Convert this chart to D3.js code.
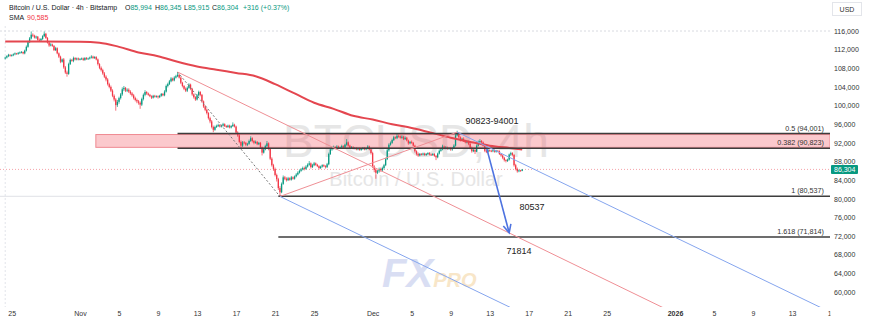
<!DOCTYPE html>
<html lang="en">
<head>
<meta charset="UTF-8">
<title>BTCUSD 4h</title>
<script src="https://d3js.org/d3.v7.min.js"></script>
<style>
  body { margin: 0; background: #fff; }
  svg { display: block; font-family: "Liberation Sans", Arial, sans-serif; }
</style>
</head>
<body>
<div id="chart"></div>
<script>
// 4h candles from Bitstamp, prices in thousand USD, first candle 2025-10-24 08:00 UTC
var startTime = Date.UTC(2025, 9, 24, 8);
var firstOpen = 110.1;
var closes = [
  110.3,110.6,110.9,110.7,
  110.8,111.0,111.2,111.1,111.3,111.4,
  111.5,111.2,111.8,112.6,113.6,114.4,
  115.2,115.0,114.6,114.8,114.1,114.0,
  114.3,114.9,115.4,114.5,113.5,112.9,
  113.1,112.8,111.9,112.3,111.2,110.5,
  109.4,109.9,108.2,107.1,106.8,108.9,
  109.8,109.6,110.2,109.9,110.1,109.9,
  110.0,110.1,109.8,110.2,110.0,110.1,
  110.3,110.5,110.2,110.4,109.9,108.9,
  108.1,107.6,106.9,106.2,105.6,104.6,
  104.0,103.2,102.1,101.3,100.1,100.8,
  101.6,102.4,103.5,103.8,103.2,103.4,
  103.0,102.6,102.2,101.6,101.2,100.9,
  100.6,100.2,101.4,102.3,102.9,102.6,
  102.3,102.0,101.7,102.1,101.9,102.0,
  101.8,102.1,102.5,102.2,103.0,104.2,
  104.6,105.2,105.8,105.4,106.0,106.3,
  106.6,106.0,104.9,104.2,103.6,103.2,
  103.8,104.5,103.6,102.4,101.8,101.3,
  102.2,102.9,102.3,100.9,99.8,99.1,
  98.4,97.3,96.6,95.4,94.8,95.4,
  95.6,95.8,95.5,95.7,96.0,95.6,
  95.4,95.7,95.3,95.6,95.9,95.5,
  94.2,93.6,92.2,91.4,92.1,92.0,
  91.6,91.8,92.4,93.0,92.4,92.0,
  92.2,91.7,92.0,91.0,89.9,90.6,
  91.3,91.9,90.7,88.6,87.2,86.4,
  85.1,84.2,82.3,81.4,83.2,84.6,
  84.3,84.0,84.4,84.1,84.6,84.3,
  84.8,85.2,85.6,86.0,86.3,86.6,
  86.4,86.9,87.3,87.6,86.8,87.2,
  87.6,87.3,87.0,86.6,86.9,87.2,
  87.0,86.8,87.4,89.6,90.6,90.9,
  91.1,90.8,91.2,90.9,91.0,91.3,
  91.0,91.6,92.1,91.4,90.9,91.1,
  90.8,90.9,90.6,90.8,90.5,90.7,
  90.9,90.6,90.8,91.2,90.6,89.8,
  86.9,86.2,85.6,85.9,86.4,86.1,
  86.6,87.2,88.5,90.4,91.6,92.0,
  92.6,93.2,93.0,93.5,93.4,93.1,
  93.3,92.8,93.1,92.5,91.9,92.2,
  92.0,91.4,90.2,89.6,89.3,89.6,
  89.5,89.7,89.4,89.6,89.8,89.5,
  89.4,89.6,89.2,88.9,89.7,90.3,
  90.6,91.2,90.8,91.0,90.7,90.9,
  90.6,90.9,91.4,93.6,94.1,93.2,
  92.6,92.9,92.4,92.1,92.3,91.8,
  90.9,90.2,90.5,90.1,91.4,92.2,
  92.4,92.1,91.4,90.3,90.1,90.4,
  90.3,90.2,90.4,90.1,90.3,90.2,
  89.6,89.3,88.8,88.3,88.1,88.4,
  89.5,89.8,89.4,87.2,86.4,85.9,
  86.1,85.994,86.304
];
var highs = [
  110.5,110.8,111.1,111.0,
  111.0,111.2,111.4,111.3,111.5,111.6,
  111.7,111.6,112.0,112.9,113.9,114.7,
  115.9,115.5,115.2,115.0,114.9,114.4,
  114.5,115.1,115.9,115.6,114.7,113.8,
  113.4,113.3,113.0,112.6,112.5,111.4,
  110.7,110.1,110.2,108.5,107.5,109.2,
  110.1,110.0,110.5,110.4,110.3,110.3,
  110.2,110.3,110.3,110.4,110.4,110.3,
  110.5,110.8,110.7,110.6,110.6,110.1,
  109.1,108.4,107.9,107.2,106.5,105.9,
  104.9,104.3,103.5,102.4,101.6,101.2,
  101.9,102.7,103.9,104.2,104.0,103.7,
  103.7,103.3,102.9,102.5,101.9,101.5,
  101.2,100.9,101.7,102.6,103.3,103.1,
  102.8,102.5,102.2,102.3,102.3,102.2,
  102.2,102.3,102.7,102.7,103.3,104.5,
  104.9,105.5,106.1,106.0,106.3,106.6,
  107.2,106.8,106.2,105.1,104.4,103.9,
  104.1,104.8,104.7,103.8,102.6,102.0,
  102.5,103.2,103.1,102.5,101.1,100.1,
  99.4,98.6,97.6,96.9,95.7,95.7,
  95.9,96.1,96.0,95.9,96.3,96.2,
  95.8,95.9,95.9,95.8,96.4,96.1,
  95.7,94.5,93.9,92.5,92.4,92.4,
  92.2,92.0,92.7,93.4,93.2,92.6,
  92.5,92.4,92.2,92.2,91.2,90.9,
  91.6,92.4,92.1,90.9,88.9,87.5,
  86.7,85.4,84.5,82.7,83.5,85.0,
  84.9,84.6,84.7,84.6,84.9,84.8,
  85.0,85.5,85.9,86.3,86.6,86.9,
  86.9,87.2,87.6,88.1,87.8,87.5,
  87.9,87.8,87.5,87.2,87.1,87.4,
  87.4,87.2,87.7,89.9,90.9,91.2,
  91.4,91.3,91.5,91.4,91.2,91.6,
  91.5,91.8,92.8,92.3,91.6,91.3,
  91.3,91.1,91.1,91.0,91.0,90.9,
  91.1,91.1,91.0,91.5,91.4,90.8,
  90.1,87.2,86.5,86.2,86.7,86.7,
  86.9,87.5,88.8,90.7,91.9,92.3,
  92.9,93.5,93.4,93.9,93.8,93.6,
  93.6,93.5,93.4,93.3,92.7,92.4,
  92.5,92.2,91.6,90.4,89.9,89.8,
  89.8,89.9,89.9,89.8,90.0,90.0,
  89.7,89.8,89.8,89.4,89.9,90.6,
  90.9,91.6,91.4,91.3,91.2,91.1,
  91.1,91.1,91.7,93.9,94.6,94.3,
  93.4,93.1,93.2,92.7,92.6,92.5,
  92.0,91.2,90.8,90.7,91.7,92.5,
  92.8,92.6,92.3,91.6,90.5,90.7,
  90.6,90.5,90.6,90.6,90.5,90.5,
  90.4,89.8,89.5,89.0,88.5,88.6,
  89.7,90.1,90.0,89.6,87.5,86.7,
  86.3,86.2,86.345
];
var lows = [
  109.9,110.1,110.4,110.5,
  110.5,110.6,110.8,110.9,110.9,111.1,
  111.2,111.0,111.0,111.6,112.4,113.4,
  114.2,114.7,114.4,114.3,113.9,113.7,
  113.8,114.1,114.7,114.3,113.3,112.6,
  112.7,112.6,111.7,111.7,111.0,110.2,
  109.1,109.2,107.9,106.8,106.2,106.6,
  108.7,109.4,109.3,109.7,109.7,109.7,
  109.7,109.8,109.6,109.6,109.8,109.8,
  109.9,110.1,110.0,110.0,109.7,108.6,
  107.8,107.3,106.6,105.9,105.2,104.3,
  103.7,102.9,101.8,100.9,98.9,99.7,
  100.4,101.3,102.1,103.1,102.9,102.9,
  102.7,102.3,101.9,101.3,100.9,100.5,
  100.2,99.3,99.9,101.1,102.0,102.3,
  102.1,101.8,101.4,101.5,101.7,101.7,
  101.5,101.6,101.9,102.0,102.0,102.8,
  103.9,104.4,105.0,105.2,105.2,105.8,
  106.1,105.8,104.6,103.9,103.3,102.9,
  102.9,103.6,103.3,102.1,101.5,101.0,
  101.1,101.9,102.0,100.6,99.5,98.8,
  98.1,97.0,96.2,95.1,94.3,94.6,
  95.2,95.4,95.3,95.3,95.5,95.4,
  95.2,95.2,95.1,95.1,95.4,95.3,
  94.0,93.3,91.9,90.9,91.1,91.7,
  91.3,91.3,91.6,92.2,92.1,91.7,
  91.8,91.5,91.5,90.7,89.3,89.7,
  90.4,91.1,90.4,88.3,86.9,86.0,
  84.8,83.7,81.9,80.5,81.2,83.0,
  84.0,83.7,83.8,83.9,83.9,84.1,
  84.1,84.6,85.0,85.4,85.8,86.1,
  86.1,86.2,86.7,87.1,86.5,86.6,
  87.0,87.1,86.8,86.3,86.4,86.7,
  86.8,86.5,86.6,87.2,89.4,90.3,
  90.6,90.6,90.6,90.7,90.7,90.8,
  90.8,90.8,91.4,91.2,90.7,90.7,
  90.6,90.6,90.4,90.4,90.3,90.3,
  90.5,90.4,90.4,90.6,90.4,89.5,
  86.6,85.7,84.3,85.3,85.6,85.8,
  85.8,86.3,87.0,88.3,90.1,91.4,
  91.8,92.4,92.8,92.8,93.1,92.9,
  92.9,92.6,92.6,92.3,91.6,91.7,
  91.8,91.2,89.9,89.3,89.0,89.1,
  89.3,89.3,89.2,89.2,89.4,89.3,
  89.2,89.2,89.0,88.3,88.7,89.5,
  90.1,90.4,90.6,90.6,90.5,90.5,
  90.3,90.3,90.7,91.2,93.4,92.9,
  92.3,92.4,92.2,91.9,91.9,91.5,
  90.6,89.9,90.0,89.6,90.0,91.2,
  92.0,91.9,91.2,90.0,89.8,89.9,
  90.1,90.0,90.0,89.9,89.9,90.0,
  89.4,89.0,88.5,88.0,87.8,87.9,
  88.2,89.2,89.1,86.9,86.1,85.6,
  85.7,85.8,85.915
];

// SMA (thousand USD) sampled along the chart
var smaDates = ["2025-10-24T08:00Z","2025-10-28T00:00Z","2025-11-01T00:00Z","2025-11-03T00:00Z","2025-11-05T00:00Z",
  "2025-11-07T00:00Z","2025-11-09T00:00Z","2025-11-11T00:00Z","2025-11-13T00:00Z","2025-11-15T00:00Z",
  "2025-11-17T00:00Z","2025-11-19T00:00Z","2025-11-21T00:00Z","2025-11-23T00:00Z","2025-11-25T00:00Z",
  "2025-11-27T00:00Z","2025-11-29T00:00Z","2025-12-01T00:00Z","2025-12-03T00:00Z","2025-12-05T00:00Z",
  "2025-12-07T00:00Z","2025-12-09T00:00Z","2025-12-11T00:00Z","2025-12-13T00:00Z","2025-12-15T00:00Z","2025-12-16T08:00Z"];
var smaValues = [113.75,113.75,113.7,113.5,112.6,111.4,110.6,109.4,108.4,107.7,107.0,106.3,104.6,102.6,100.6,
  99.3,97.8,97.0,96.0,95.2,94.2,93.1,92.2,91.4,90.9,90.585];

var priceTicks = [116000,112000,108000,104000,100000,96000,92000,88000,84000,80000,76000,72000,68000,64000,60000];
var dateTicks = ["2025-10-25","2025-11-01","2025-11-05","2025-11-09","2025-11-13","2025-11-17","2025-11-21","2025-11-25",
  "2025-12-01","2025-12-05","2025-12-09","2025-12-13","2025-12-17","2025-12-21","2025-12-25",
  "2026-01-01","2026-01-05","2026-01-09","2026-01-13","2026-01-17"];
var dateLabels = ["25","Nov","5","9","13","17","21","25","Dec","5","9","13","17","21","25","2026","5","9","13","17"];

var fibLevels = [94001, 90823, 80537, 71814];
var fibLabels = ["0.5 (94,001)", "0.382 (90,823)", "1 (80,537)", "1.618 (71,814)"];
var fibStarts = ["2025-11-11T00:00Z", "2025-11-11T00:00Z", "2025-11-21T08:00Z", "2025-11-21T08:00Z"];
var zoneStart = "2025-11-02T15:00Z";
var lastPrice = 86304;
var smaLast = 90585;
var changeAbs = 316, changePct = 0.37;

// drawn lines: [date, price] pairs
var dottedLine = [["2025-11-11T00:00Z", 107200], ["2025-11-21T12:00Z", 80500]];
var redLines = [
  [["2025-11-11T00:00Z", 107200], ["2026-01-01T00:00Z", 55400]],
  [["2025-11-21T12:00Z", 80500], ["2025-12-09T16:00Z", 94300]]
];
var blueLines = [
  [["2025-12-09T16:00Z", 94300], ["2026-01-17T00:00Z", 55600]],
  [["2025-11-21T12:00Z", 80500], ["2025-12-16T00:00Z", 55800]]
];
var arrow = [["2025-12-12T17:00Z", 90700], ["2025-12-15T00:00Z", 72700]];
var notes = [
  {text: "90823-94001", date: "2025-12-13T06:00Z", price: 96040},
  {text: "80537", date: "2025-12-17T08:00Z", price: 77590},
  {text: "71814", date: "2025-12-16T00:00Z", price: 68140}
];

// ---- build candle table ----
var H4 = 4 * 3600 * 1000;
var candles = closes.map(function(c, i) {
  return {
    t: new Date(startTime + i * H4),
    o: (i === 0 ? firstOpen : closes[i - 1]) * 1000,
    h: highs[i] * 1000,
    l: lows[i] * 1000,
    c: c * 1000
  };
});

var W = 870, Hh = 328;
var plotRight = 830, plotTop = 26, plotBottom = 307;
var up = "#089981", down = "#f23645";

var svg = d3.select("#chart").append("svg").attr("width", W).attr("height", Hh);

var x = d3.scaleUtc().domain([new Date(Date.UTC(2025, 10, 1)), new Date(Date.UTC(2026, 0, 1))]).range([80, 675]);
var y = d3.scaleLinear().domain([60000, 116000]).range([292, 31]);
var P = function(d) { return [x(new Date(d[0])), y(d[1])]; };

svg.append("clipPath").attr("id", "plot").append("rect")
  .attr("x", 0).attr("y", plotTop).attr("width", plotRight).attr("height", plotBottom - plotTop);
svg.append("clipPath").attr("id", "xaxis").append("rect")
  .attr("x", 0).attr("y", 0).attr("width", 830.5).attr("height", 20);

var plot = svg.append("g").attr("clip-path", "url(#plot)");

// watermark
plot.append("text").attr("x", 416).attr("y", 157).attr("text-anchor", "middle")
  .attr("font-size", 46).attr("fill", "#e6e6e6").text("BTCUSD, 4h");
plot.append("text").attr("x", 416).attr("y", 186).attr("text-anchor", "middle")
  .attr("font-size", 20).attr("fill", "#e6e6e6").text("Bitcoin / U.S. Dollar");
var logo = plot.append("text").attr("x", 382).attr("y", 287).attr("font-style", "italic").attr("font-weight", "bold");
logo.append("tspan").attr("font-size", 40).attr("fill", "#d9def3").text("FX");
logo.append("tspan").attr("font-size", 20).attr("fill", "#f8e6c8").text("PRO");

// faint helper lines
plot.append("line").attr("x1", 0).attr("x2", plotRight).attr("y1", y(116000)).attr("y2", y(116000))
  .attr("stroke", "#d8dae0").attr("stroke-dasharray", "2,2");
plot.append("line").attr("x1", x(new Date("2025-10-24T08:00Z"))).attr("x2", x(new Date("2025-10-24T08:00Z")))
  .attr("y1", plotTop).attr("y2", plotBottom).attr("stroke", "#e2e4ea").attr("stroke-dasharray", "2,2");
plot.append("line").attr("x1", 0).attr("x2", x(new Date(fibStarts[2]))).attr("y1", y(fibLevels[2])).attr("y2", y(fibLevels[2]))
  .attr("stroke", "#dfe1e6");
plot.append("line").attr("x1", 0).attr("x2", plotRight).attr("y1", y(lastPrice)).attr("y2", y(lastPrice))
  .attr("stroke", "#f5a3a9").attr("stroke-dasharray", "1,2");

// zone rectangle (semi-transparent so the watermark shows through)
plot.append("rect")
  .attr("x", x(new Date(zoneStart))).attr("y", y(fibLevels[0]) + 1)
  .attr("width", plotRight - x(new Date(zoneStart))).attr("height", y(fibLevels[1]) - y(fibLevels[0]) - 2)
  .attr("fill", "#f23645").attr("fill-opacity", 0.27).attr("stroke", "#ef8a92").attr("stroke-width", 1);

// candles
var cg = plot.append("g");
cg.selectAll("line.wick").data(candles).enter().append("line")
  .attr("x1", function(d) { return x(d.t); }).attr("x2", function(d) { return x(d.t); })
  .attr("y1", function(d) { return y(d.h); }).attr("y2", function(d) { return y(d.l); })
  .attr("stroke", function(d) { return d.c >= d.o ? up : down; }).attr("stroke-width", 0.7);
cg.selectAll("rect.body").data(candles).enter().append("rect")
  .attr("x", function(d) { return x(d.t) - 0.65; }).attr("width", 1.3)
  .attr("y", function(d) { return y(Math.max(d.o, d.c)); })
  .attr("height", function(d) { return Math.max(0.8, Math.abs(y(d.o) - y(d.c))); })
  .attr("fill", function(d) { return d.c >= d.o ? up : down; });

// SMA
plot.append("path")
  .datum(smaDates.map(function(d, i) { return [new Date(d), smaValues[i] * 1000]; }))
  .attr("d", d3.line().x(function(d) { return x(d[0]); }).y(function(d) { return y(d[1]); }).curve(d3.curveMonotoneX))
  .attr("fill", "none").attr("stroke", "#e4464f").attr("stroke-width", 2);

// fib levels
fibLevels.forEach(function(v, i) {
  plot.append("line").attr("x1", x(new Date(fibStarts[i]))).attr("x2", plotRight)
    .attr("y1", y(v)).attr("y2", y(v)).attr("stroke", "#3d3d3d").attr("stroke-width", 1.5);
  plot.append("text").attr("x", 824).attr("y", y(v) - 3).attr("text-anchor", "end")
    .attr("font-size", 7.2).attr("fill", "#333").text(fibLabels[i]);
});

// drawn lines
plot.append("line").datum(dottedLine)
  .attr("x1", function(d) { return P(d[0])[0]; }).attr("y1", function(d) { return P(d[0])[1]; })
  .attr("x2", function(d) { return P(d[1])[0]; }).attr("y2", function(d) { return P(d[1])[1]; })
  .attr("stroke", "#777").attr("stroke-width", 1).attr("stroke-dasharray", "2,2");
plot.selectAll("line.red").data(redLines).enter().append("line")
  .attr("x1", function(d) { return P(d[0])[0]; }).attr("y1", function(d) { return P(d[0])[1]; })
  .attr("x2", function(d) { return P(d[1])[0]; }).attr("y2", function(d) { return P(d[1])[1]; })
  .attr("stroke", "#ef8f95").attr("stroke-width", 1);
plot.selectAll("line.blue").data(blueLines).enter().append("line")
  .attr("x1", function(d) { return P(d[0])[0]; }).attr("y1", function(d) { return P(d[0])[1]; })
  .attr("x2", function(d) { return P(d[1])[0]; }).attr("y2", function(d) { return P(d[1])[1]; })
  .attr("stroke", "#85a5ee").attr("stroke-width", 1);

// arrow
var a0 = P(arrow[0]), a1 = P(arrow[1]);
var ang = Math.atan2(a1[1] - a0[1], a1[0] - a0[0]);
plot.append("line").attr("x1", a0[0]).attr("y1", a0[1]).attr("x2", a1[0]).attr("y2", a1[1])
  .attr("stroke", "#4e73e0").attr("stroke-width", 1.6);
plot.append("path")
  .attr("d", "M" + (a1[0] - 9 * Math.cos(ang - 0.45)) + "," + (a1[1] - 9 * Math.sin(ang - 0.45)) +
    "L" + a1[0] + "," + a1[1] +
    "L" + (a1[0] - 9 * Math.cos(ang + 0.45)) + "," + (a1[1] - 9 * Math.sin(ang + 0.45)))
  .attr("fill", "none").attr("stroke", "#4e73e0").attr("stroke-width", 1.6);

// notes
plot.selectAll("text.note").data(notes).enter().append("text")
  .attr("x", function(d) { return x(new Date(d.date)); }).attr("y", function(d) { return y(d.price); })
  .attr("text-anchor", "middle").attr("font-size", 9).attr("fill", "#222").text(function(d) { return d.text; });

// price axis
var ya = svg.append("g").attr("transform", "translate(831,0)")
  .call(d3.axisRight(y).tickValues(priceTicks).tickSize(0).tickPadding(3).tickFormat(d3.format(",")));
ya.select(".domain").remove();
ya.selectAll("text").attr("font-size", 7).attr("fill", "#333").attr("font-family", "Liberation Sans, Arial, sans-serif");

// last price tag
svg.append("rect").attr("x", 831).attr("y", y(lastPrice) - 4.5).attr("width", 27).attr("height", 9)
  .attr("fill", up).attr("rx", 1);
svg.append("text").attr("x", 834).attr("y", y(lastPrice) + 2.5).attr("font-size", 7).attr("fill", "#fff")
  .text(d3.format(",")(lastPrice));

// USD box
svg.append("rect").attr("x", 832.5).attr("y", 2.5).attr("width", 29).attr("height", 13)
  .attr("fill", "#fff").attr("stroke", "#e3e5ea");
svg.append("text").attr("x", 847).attr("y", 11.5).attr("text-anchor", "middle").attr("font-size", 7)
  .attr("fill", "#333").text("USD");

// time axis
var xa = svg.append("g").attr("transform", "translate(0," + plotBottom + ")").attr("clip-path", "url(#xaxis)")
  .call(d3.axisBottom(x).tickValues(dateTicks.map(function(d) { return new Date(d + "T00:00Z"); }))
    .tickSize(0).tickPadding(4).tickFormat(function(d, i) { return dateLabels[i]; }));
xa.select(".domain").remove();
xa.selectAll("text").attr("font-size", 7).attr("fill", "#333").attr("font-family", "Liberation Sans, Arial, sans-serif")
  .attr("font-weight", function(d, i) { return dateLabels[i] === "2026" ? "bold" : null; });

// header
var last = candles[candles.length - 1];
var f = d3.format(",");
var hdr = svg.append("g").attr("font-size", 7);
hdr.append("text").attr("x", 9).attr("y", 10).attr("fill", "#131722").text("Bitcoin / U.S. Dollar · 4h · Bitstamp");
[["O", last.o, 125], ["H", last.h, 155], ["L", last.l, 184], ["C", last.c, 212]].forEach(function(k) {
  var t = hdr.append("text").attr("x", k[2]).attr("y", 10);
  t.append("tspan").attr("fill", "#131722").text(k[0]);
  t.append("tspan").attr("fill", up).text(f(Math.round(k[1])));
});
hdr.append("text").attr("x", 243).attr("y", 10).attr("fill", up)
  .text("+" + changeAbs + " (+" + changePct.toFixed(2) + "%)");
hdr.append("text").attr("x", 9).attr("y", 20).attr("fill", "#131722").text("SMA");
hdr.append("text").attr("x", 27).attr("y", 20).attr("fill", down).text(f(smaLast));
</script>
</body>
</html>
